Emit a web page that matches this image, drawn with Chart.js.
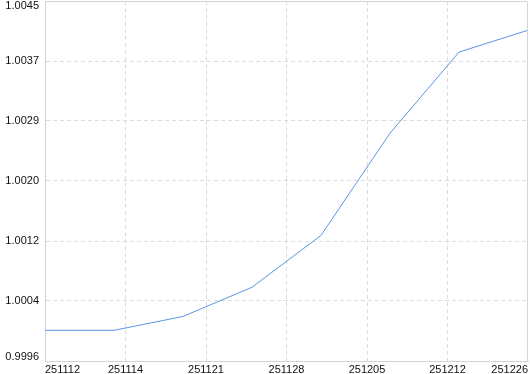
<!DOCTYPE html>
<html>
<head>
<meta charset="utf-8">
<script src="https://cdn.jsdelivr.net/npm/chart.js@4"></script>
<style>
  html, body { margin: 0; padding: 0; background: #fff; }
  canvas { display: block; }
</style>
</head>
<body>
<canvas id="chart" width="530" height="374"></canvas>
<script>
// days from the axis start, one point every 6 days
const xDays = [0, 6, 12, 18, 24, 30, 36, 42];
const values = [1.0000, 1.0000, 1.00019, 1.00059, 1.00130, 1.00270, 1.00381, 1.00411];

const xTickDays = [0, 7, 14, 21, 28, 35, 42];
const xTickLabels = ['251112', '251114', '251121', '251128', '251205', '251212', '251226'];

const yTickValues = [0.99958, 1.000402, 1.001223, 1.002045, 1.002867, 1.003688, 1.00451];
const yTickLabels = ['0.9996', '1.0004', '1.0012', '1.0020', '1.0029', '1.0037', '1.0045'];

const frameColor = '#d4d4d4';
const gridColor = '#dcdcdc';
const fontFamily = "'Liberation Sans', Arial, sans-serif";

// solid top and right edge of the plot
const framePlugin = {
  id: 'frame',
  afterDraw(chart) {
    const { ctx, chartArea: a } = chart;
    ctx.save();
    ctx.strokeStyle = frameColor;
    ctx.lineWidth = 1;
    ctx.beginPath();
    ctx.moveTo(a.left, a.top + 0.5);
    ctx.lineTo(a.right - 0.5, a.top + 0.5);
    ctx.lineTo(a.right - 0.5, a.bottom);
    ctx.stroke();
    ctx.restore();
  }
};

function edgeColor(ctx, n) {
  return (ctx.index === 0 || ctx.index === n - 1) ? 'rgba(0,0,0,0)' : gridColor;
}

new Chart(document.getElementById('chart'), {
  type: 'line',
  data: {
    datasets: [{
      data: xDays.map((d, i) => ({ x: d, y: values[i] })),
      borderColor: '#5a96e6',
      borderWidth: 1,
      pointRadius: 0,
      tension: 0,
      fill: false
    }]
  },
  options: {
    responsive: false,
    animation: false,
    layout: { padding: { top: 1, right: 2, left: 0, bottom: 0 } },
    plugins: { legend: { display: false }, tooltip: { enabled: false } },
    scales: {
      x: {
        type: 'linear',
        min: 0,
        max: 42,
        afterBuildTicks: s => { s.ticks = xTickDays.map(v => ({ value: v })); },
        afterFit: s => { s.height = 13; s.paddingLeft = 0; s.paddingRight = 0; },
        grid: {
          color: c => edgeColor(c, xTickDays.length),
          drawTicks: false
        },
        border: { color: frameColor, dash: [4, 3] },
        ticks: {
          autoSkip: false,
          maxRotation: 0,
          align: 'inner',
          padding: 2,
          color: '#111',
          font: { family: fontFamily, size: 11 },
          callback: v => xTickLabels[xTickDays.indexOf(v)]
        }
      },
      y: {
        min: yTickValues[0],
        max: yTickValues[yTickValues.length - 1],
        afterBuildTicks: s => { s.ticks = yTickValues.map(v => ({ value: v })); },
        afterFit: s => { s.width = 45; s.paddingTop = 0; s.paddingBottom = 0; },
        grid: {
          color: c => edgeColor(c, yTickValues.length),
          drawTicks: false
        },
        border: { color: frameColor, dash: [4, 3] },
        ticks: {
          padding: 6,
          color: '#111',
          font: { family: fontFamily, size: 11, lineHeight: 0.82 },
          callback: (v, i) => {
            const label = yTickLabels[i];
            if (i === 0) return [label, ''];
            if (i === yTickLabels.length - 1) return ['', label];
            return label;
          }
        }
      }
    }
  },
  plugins: [framePlugin]
});
</script>
</body>
</html>
